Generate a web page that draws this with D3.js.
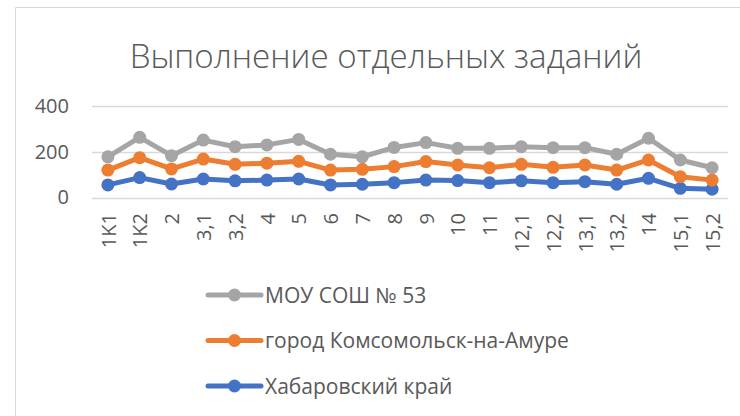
<!DOCTYPE html>
<html><head><meta charset="utf-8">
<script src="https://cdn.jsdelivr.net/npm/d3@7"></script>
<style>
html,body{margin:0;padding:0;background:#fff;}
svg{display:block;font-family:"Open Sans",sans-serif;}
</style></head>
<body>
<svg id="c" width="740" height="416"></svg>
<script>
const title = "Выполнение отдельных заданий";
const categories = ["1K1","1K2","2","3,1","3,2","4","5","6","7","8","9","10","11","12,1","12,2","13,1","13,2","14","15,1","15,2"];
const seriesNames = ["Хабаровский край","город Комсомольск-на-Амуре","МОУ СОШ № 53"];
const khabarovsk = [55,87,59,81,73,76,81,55,58,65,76,74,65,73,65,69,58,84,40,36];
const komsomolsk = [65,87,66,87,72,74,77,65,65,70,81,68,65,72,67,73,62,80,51,40];
const school53   = [58,89,58,83,77,80,96,69,55,84,83,73,85,77,86,76,69,95,73,54];
const yTicks = [0,200,400];
const colors = ["#4472C4","#ED7D31","#A5A5A5"];

const svg = d3.select("#c");

// chart frame
svg.append("path").attr("d","M15.5,420 V7.5 H745").attr("fill","none").attr("stroke","#d9d9d9").attr("stroke-width",1);

// title
const t = svg.append("text").attr("x",386).attr("y",68).attr("text-anchor","middle")
  .attr("fill","#595959").style("font-size","31px").style("font-weight","300").text(title);
const tl = t.node().getComputedTextLength();
t.style("font-size",(31*513/tl).toFixed(2)+"px");

const x = d3.scalePoint().domain(categories).range([92,728]).padding(0.5);
const y = d3.scaleLinear().domain([0,400]).range([197.5,106]);

// gridlines
svg.append("g").selectAll("line").data(yTicks).join("line")
  .attr("x1",92).attr("x2",728)
  .attr("y1",d=>Math.round(y(d))+0.5).attr("y2",d=>Math.round(y(d))+0.5)
  .attr("stroke","#d9d9d9").attr("stroke-width",1.3);

// y labels
const yAxis = d3.axisLeft(y).tickValues(yTicks).tickSize(0).tickPadding(0);
const gy = svg.append("g").attr("transform","translate(69,0)").call(yAxis);
gy.select(".domain").remove();
gy.selectAll("text").attr("fill","#595959").style("font-size","20px").style("font-family","'Open Sans',sans-serif");

// x labels
const xAxis = d3.axisBottom(x).tickSize(0).tickPadding(0);
const gx = svg.append("g").attr("transform","translate(0,213)").call(xAxis);
gx.select(".domain").remove();
gx.selectAll("text").attr("fill","#595959").style("font-size","20px").style("font-family","'Open Sans',sans-serif")
  .attr("text-anchor","end").attr("transform","rotate(-90)").attr("x",0).attr("y",0).attr("dy","0.36em");

// stacked data
const rows = categories.map((c,i)=>({cat:c, a:khabarovsk[i], b:komsomolsk[i], c2:school53[i]}));
const stack = d3.stack().keys(["a","b","c2"])(rows);

const line = d3.line().x(d=>x(d.data.cat)).y(d=>y(d[1]));
stack.forEach((s,k)=>{
  const g = svg.append("g");
  g.append("path").attr("d",line(s)).attr("fill","none").attr("stroke",colors[k])
    .attr("stroke-width",5).attr("stroke-linejoin","round").attr("stroke-linecap","round");
  g.selectAll("circle").data(s).join("circle")
    .attr("cx",d=>x(d.data.cat)).attr("cy",d=>y(d[1])).attr("r",6.5).attr("fill",colors[k]);
});

// legend (top to bottom: school, city, region)
const legendOrder = [2,1,0];
const ly = [295,340.5,386];
legendOrder.forEach((k,i)=>{
  const g = svg.append("g").attr("transform",`translate(0,${ly[i]})`);
  g.append("line").attr("x1",208).attr("x2",261).attr("y1",0).attr("y2",0)
    .attr("stroke",colors[k]).attr("stroke-width",5).attr("stroke-linecap","round");
  g.append("circle").attr("cx",234.5).attr("cy",0).attr("r",6.5).attr("fill",colors[k]);
  g.append("text").attr("x",265).attr("y",0).attr("dy","0.36em").attr("fill","#595959")
    .style("font-size","21px").text(seriesNames[k]);
});
</script>
</body></html>
